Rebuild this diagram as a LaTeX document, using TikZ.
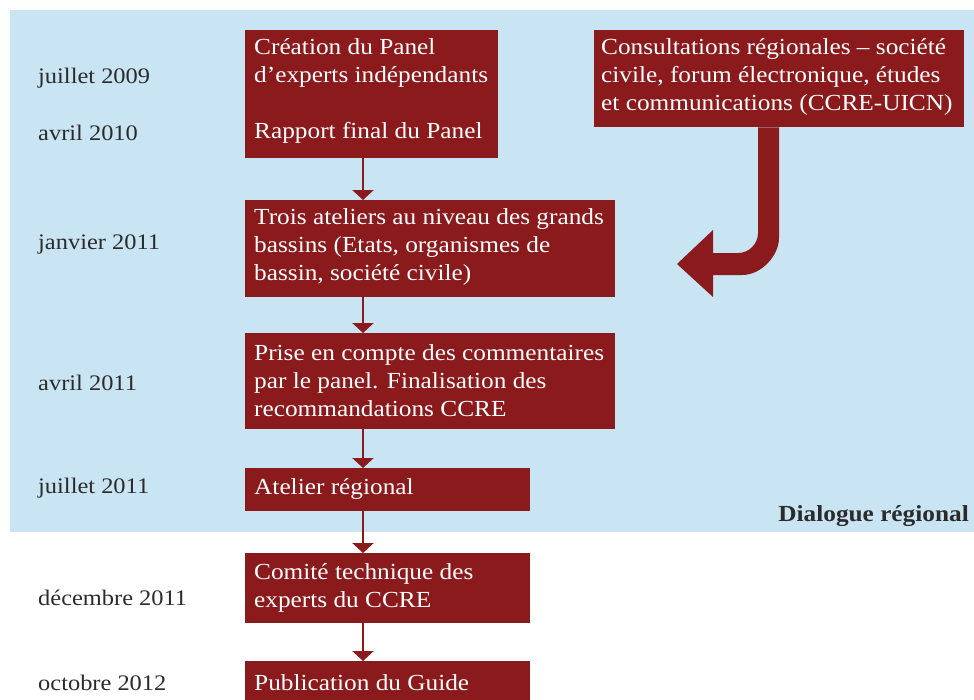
\documentclass[tikz,border=0pt]{standalone}
\usepackage{fontspec}
\setmainfont{Liberation Serif}[FakeStretch=1.1]
\usetikzlibrary{arrows.meta}
\definecolor{bgblue}{HTML}{C9E4F3}
\definecolor{boxred}{HTML}{8B1A1C}
\definecolor{datecol}{HTML}{2B2B2B}
\newcommand\myfs{\fontsize{23}{28}\selectfont}
\newcommand\mydatefs{\fontsize{22.2}{28}\selectfont}
\begin{document}
\begin{tikzpicture}[x=1pt,y=-1pt,
  box/.style={fill=boxred, draw=none, anchor=north west, inner sep=0pt},
  boxtext/.style={text=white, anchor=west, align=left, inner sep=0pt, font=\myfs},
  datetext/.style={text=datecol, anchor=west, inner sep=0pt, font=\mydatefs},
  conn/.style={draw=boxred, line width=2.5pt, -{Triangle[width=21pt,length=10pt]}}]
\useasboundingbox (0,0) rectangle (974,699);
\fill[bgblue] (10,10) rectangle (974,532);
% boxes
\node[box, minimum width=253pt, minimum height=128pt] (A) at (245,30) {};
\node[box, minimum width=370pt, minimum height=97pt] (B) at (245,200) {};
\node[box, minimum width=370pt, minimum height=96pt] (C) at (245,333) {};
\node[box, minimum width=285pt, minimum height=43pt] (D) at (245,468) {};
\node[box, minimum width=285pt, minimum height=70pt] (E) at (245,553) {};
\node[box, minimum width=285pt, minimum height=50pt] (F) at (245,661) {};
\node[box, minimum width=370pt, minimum height=97pt] (G) at (594,30) {};
% box texts
\node[boxtext] (tA) at (254,91) {Création du Panel\\d’experts indépendants\\[28pt]Rapport final du Panel};
\node[boxtext] (tB) at (254,247) {Trois ateliers au niveau des grands\\bassins (Etats, organismes de\\bassin, société civile)};
\node[boxtext] (tC) at (254,381) {Prise en compte des commentaires\\par le panel. Finalisation des\\recommandations CCRE};
\node[boxtext] (tD) at (254,489) {Atelier régional};
\node[boxtext] (tE) at (254,588) {Comité technique des\\experts du CCRE};
\node[boxtext] (tF) at (254,683) {Publication du Guide};
\node[boxtext] (tG) at (601,77) {Consultations régionales – société\\civile, forum électronique, études\\et communications (CCRE-UICN)};
% dates
\node[datetext] (d1) at (38,78) {juillet 2009};
\node[datetext] (d2) at (38,133) {avril 2010};
\node[datetext] (d3) at (38,244) {janvier 2011};
\node[datetext] (d4) at (38,383) {avril 2011};
\node[datetext] (d5) at (38,488) {juillet 2011};
\node[datetext] (d6) at (38,598) {décembre 2011};
\node[datetext] (d7) at (38,683) {octobre 2012};
\node[text=datecol, anchor=east, inner sep=0pt, font=\myfs\bfseries] (dlg) at (969,516) {Dialogue régional};
% connectors
\coordinate (cx) at (363,0);
\draw[conn] (A.south -| cx) -- (B.north -| cx);
\draw[conn] (B.south -| cx) -- (C.north -| cx);
\draw[conn] (C.south -| cx) -- (D.north -| cx);
\draw[conn] (D.south -| cx) -- (E.north -| cx);
\draw[conn] (E.south -| cx) -- (F.north -| cx);
% curved fat arrow from G
\fill[boxred] (G.south -| 758,0) -- (758,233) .. controls (758,244) and (749,253) .. (738,253)
  -- (713,253) -- (713,230) -- (677,264) -- (713,297) -- (713,275) -- (742,275)
  .. controls (762,275) and (779,255) .. (779,238) -- (G.south -| 779,0) -- cycle;
\end{tikzpicture}
\end{document}
